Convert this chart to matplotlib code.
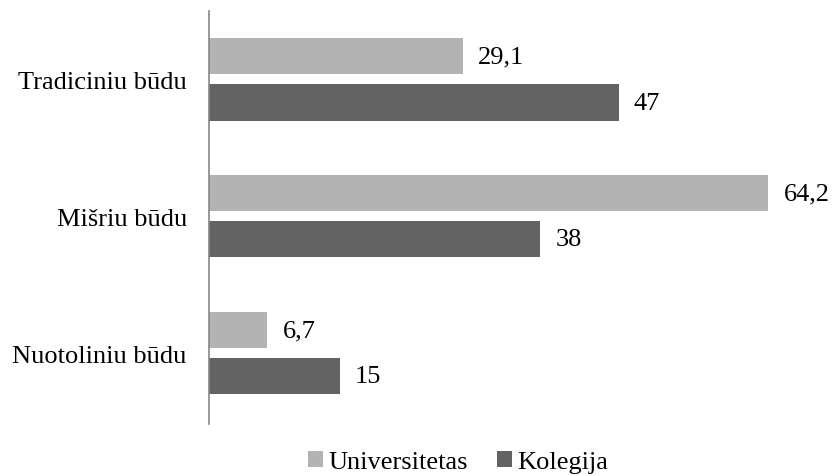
import matplotlib.pyplot as plt
from matplotlib.font_manager import FontProperties
import numpy as np

categories = ['Tradiciniu būdu', 'Mišriu būdu', 'Nuotoliniu būdu']
universitetas = [29.1, 64.2, 6.7]
kolegija = [47, 38, 15]
series_names = ['Universitetas', 'Kolegija']

light = '#b3b3b3'
dark = '#636363'
font = FontProperties(family='Liberation Serif', size=19)

fig = plt.figure(figsize=(8.32, 4.77), dpi=100)
ax = fig.add_axes([209 / 832, 1 - 425 / 477, 610 / 832, 413 / 477])

y = np.arange(len(categories))
h = 0.263
off = 0.168
b1 = ax.barh(y - off, universitetas, height=h, color=light, label=series_names[0])
b2 = ax.barh(y + off, kolegija, height=h, color=dark, label=series_names[1])

# value labels, comma as decimal separator
for bars, vals in ((b1, universitetas), (b2, kolegija)):
    for bar, v in zip(bars, vals):
        txt = f'{v:g}'.replace('.', ',')
        ax.annotate(txt, (bar.get_width(), bar.get_y() + bar.get_height() / 2),
                    xytext=(11, 0), textcoords='offset points',
                    va='center', ha='left', fontproperties=font)

ax.set_xlim(0, 70)
ax.set_ylim(2.515, -0.5)
ax.set_yticks(y)
ax.set_yticklabels(categories, fontproperties=font)
ax.tick_params(axis='y', length=0, pad=16)
ax.set_xticks([])
for s in ('top', 'right', 'bottom'):
    ax.spines[s].set_visible(False)
ax.spines['left'].set_color('#868686')
ax.spines['left'].set_linewidth(1.2)

fig.legend(loc='center', bbox_to_anchor=(458 / 832, 1 - 463 / 477), ncol=2,
           frameon=False, prop=font, handlelength=0.55, handleheight=0.55,
           handletextpad=0.2, columnspacing=1.12)

fig.savefig('out.png', dpi=100, facecolor='white')
